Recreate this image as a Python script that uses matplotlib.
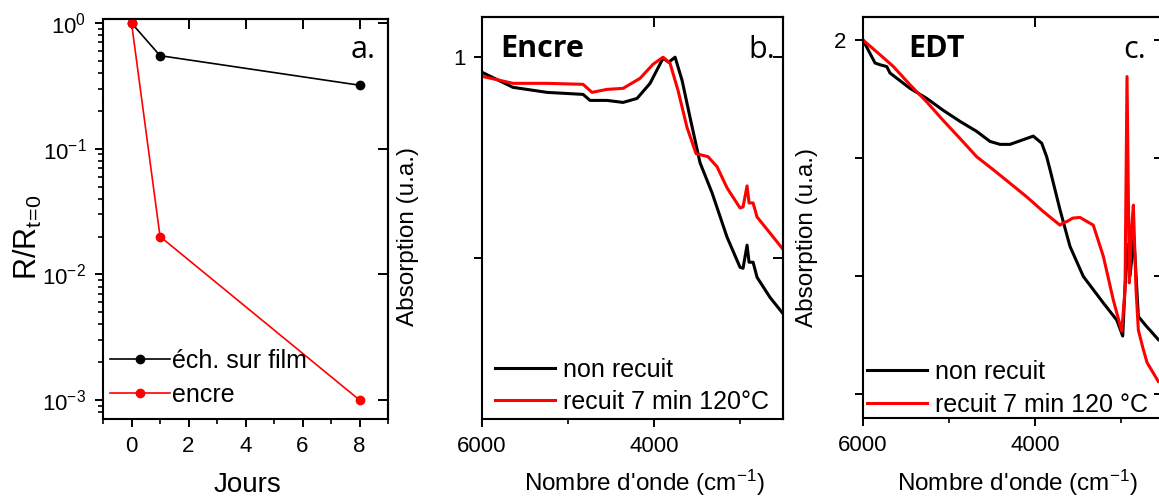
import matplotlib
matplotlib.use("Agg")
import matplotlib.pyplot as plt
from matplotlib.ticker import NullFormatter, NullLocator, FixedLocator

plt.rcParams['font.family'] = ['Liberation Sans', 'DejaVu Sans']
plt.rcParams['mathtext.default'] = 'regular'

########################
# a. resistance relative en fonction du temps
jours = [0, 1, 8]
r_film = [1.0, 0.55, 0.32]
r_encre = [1.0, 0.02, 0.001]

# b. Encre
wn_b_noir = [6000, 5640, 5244, 4825, 4744, 4546, 4360, 4197, 4046, 3895, 3830, 3755,
             3674, 3581, 3465, 3325, 3151, 3000, 2965, 2918, 2895, 2848, 2802, 2651, 2511]
abs_b_noir = [0.985, 0.970, 0.965, 0.963, 0.957, 0.957, 0.955, 0.959, 0.974, 0.999, 0.995, 1.0,
              0.977, 0.940, 0.895, 0.865, 0.821, 0.791, 0.790, 0.813, 0.796, 0.796, 0.781, 0.761, 0.746]
wn_b_recuit = [6000, 5640, 5244, 4825, 4721, 4546, 4360, 4162, 4011, 3895, 3814, 3721,
               3616, 3511, 3372, 3267, 3151, 3000, 2965, 2918, 2895, 2848, 2802, 2651, 2511]
abs_b_recuit = [0.981, 0.974, 0.974, 0.973, 0.965, 0.968, 0.969, 0.979, 0.993, 1.0, 0.994, 0.967,
                0.930, 0.904, 0.901, 0.891, 0.870, 0.850, 0.851, 0.872, 0.855, 0.855, 0.841, 0.825, 0.810]

# c. EDT
wn_c_noir = [6000, 5860, 5802, 5724, 5686, 5453, 5259, 5070, 4872, 4678, 4523, 4407, 4290, 4136,
             4020, 3922, 3864, 3825, 3709, 3593, 3438, 3205, 3049, 2980, 2953, 2920, 2895, 2850,
             2798, 2701, 2566]
abs_c_noir = [2.0, 1.961, 1.958, 1.955, 1.944, 1.918, 1.901, 1.881, 1.862, 1.845, 1.828, 1.823, 1.823,
              1.831, 1.837, 1.825, 1.802, 1.780, 1.712, 1.650, 1.599, 1.554, 1.525, 1.498, 1.582,
              1.653, 1.600, 1.666, 1.531, 1.514, 1.492]
wn_c_recuit = [6000, 5802, 5647, 5453, 5259, 5070, 4872, 4678, 4485, 4290, 4096, 3903, 3760, 3709,
               3670, 3631, 3560, 3476, 3322, 3205, 3089, 2991, 2953, 2930, 2903, 2875, 2856, 2825,
               2798, 2740, 2697, 2566]
abs_c_recuit = [2.0, 1.975, 1.955, 1.924, 1.895, 1.864, 1.833, 1.802, 1.780, 1.757, 1.734, 1.709,
                1.692, 1.686, 1.690, 1.692, 1.698, 1.699, 1.686, 1.633, 1.559, 1.506, 1.576, 1.938,
                1.588, 1.684, 1.720, 1.576, 1.508, 1.475, 1.453, 1.421]
########################

TICK_FS = 16
LAB_FS = 17.5
LEG_FS = 18
BIG_FONT = 'Open Sans'


def inner_ticks(ax, xt, yt):
    # graduations internes en haut et a droite (style Origin)
    top = ax.secondary_xaxis('top')
    top.xaxis.set_major_locator(FixedLocator(xt))
    top.xaxis.set_minor_locator(NullLocator())
    top.xaxis.set_major_formatter(NullFormatter())
    top.tick_params(direction='in', length=7, width=1.4)
    top.spines['top'].set_linewidth(1.5)
    right = ax.secondary_yaxis('right')
    right.yaxis.set_major_locator(FixedLocator(yt))
    right.yaxis.set_minor_locator(NullLocator())
    right.yaxis.set_major_formatter(NullFormatter())
    right.tick_params(direction='in', length=7, width=1.4)
    right.spines['right'].set_linewidth(1.5)


def style(ax):
    for s in ax.spines.values():
        s.set_linewidth(1.5)
    ax.tick_params(which='major', direction='out', length=6, width=1.4,
                   labelsize=TICK_FS, top=False, right=False, pad=6)
    ax.tick_params(which='minor', direction='out', length=3.5, width=1.2,
                   top=False, right=False)


fig = plt.figure(figsize=(11.59, 4.97), dpi=100)
ax_a = fig.add_axes([0.0889, 0.1569, 0.2459, 0.8048])
ax_b = fig.add_axes([0.4159, 0.1569, 0.2597, 0.8089])
ax_c = fig.add_axes([0.7446, 0.1590, 0.2597, 0.8068])

# ---- a.
ax_a.plot(jours, r_film, color='black', lw=1.2, marker='o', ms=6, label='éch. sur film')
ax_a.plot(jours, r_encre, color='red', lw=1.2, marker='o', ms=6, label='encre')
ax_a.set_yscale('log')
ax_a.set_ylim(7.06e-4, 1.076)
ax_a.set_xlim(-1, 9)
ax_a.set_xticks([0, 2, 4, 6, 8])
ax_a.set_xticks([-1, 1, 3, 5, 7, 9], minor=True)
style(ax_a)
inner_ticks(ax_a, [0, 2, 4, 6, 8], [1e-3, 1e-2, 1e-1, 1])
ax_a.set_ylabel(r'R/R$_{t\!=\!0}$', fontsize=22, va='center')
ax_a.yaxis.set_label_coords(-0.262, 0.455)
ax_a.set_xlabel('Jours', fontsize=20, va='center')
ax_a.xaxis.set_label_coords(0.505, -0.165)
ax_a.text(0.867, 0.9025, 'a.', transform=ax_a.transAxes, fontsize=22,
          family=BIG_FONT, va='baseline')
ax_a.legend(loc='lower left', bbox_to_anchor=(0.025, 0.03), frameon=False,
            fontsize=LEG_FS, handlelength=2.4, handletextpad=0.08,
            labelspacing=0.40, borderpad=0, borderaxespad=0)

# ---- b. et c.
panels = [
    (ax_b, wn_b_noir, abs_b_noir, wn_b_recuit, abs_b_recuit, (0.64, 1.04), [0.8, 1.0], ['', '1'],
     'Encre', (0.060, 0.900), 'b.', (0.884, 0.898), 'recuit 7 min 120°C',
     (0.043, 0.012), 0.32, (-0.246, 0.453), (0.541, -0.159)),
    (ax_c, wn_c_noir, abs_c_noir, wn_c_recuit, abs_c_recuit, (1.359, 2.039), [1.4, 1.6, 1.8, 2.0],
     ['', '', '', '2'], 'EDT', (0.150, 0.900), 'c.', (0.864, 0.898), 'recuit 7 min 120 °C',
     (0.013, 0.003), 0.36, (-0.186, 0.451), (0.512, -0.162)),
]
for (ax, xn, yn, xr, yr, ylim, yt, ytl, titre, tpos, lettre, lpos, lab_r,
     legpos, lsp, ylab_pos, xlab_pos) in panels:
    ax.plot(xn, yn, color='black', lw=2.2, label='non recuit')
    ax.plot(xr, yr, color='red', lw=2.2, label=lab_r)
    ax.set_xlim(6000, 2500)
    ax.set_ylim(*ylim)
    ax.set_xticks([6000, 4000])
    ax.set_xticks([5000, 3000], minor=True)
    ax.set_yticks(yt)
    ax.set_yticklabels(ytl)
    style(ax)
    inner_ticks(ax, [6000, 4000], yt)
    ax.set_ylabel('Absorption (u.a.)', fontsize=LAB_FS, va='center')
    ax.yaxis.set_label_coords(*ylab_pos)
    ax.set_xlabel("Nombre d'onde (cm$^{-1}$)", fontsize=LAB_FS, va='center')
    ax.xaxis.set_label_coords(*xlab_pos)
    ax.text(tpos[0], tpos[1], titre, transform=ax.transAxes, fontsize=22,
            family=BIG_FONT, weight='bold', va='baseline')
    ax.text(lpos[0], lpos[1], lettre, transform=ax.transAxes, fontsize=22,
            family=BIG_FONT, va='baseline')
    ax.legend(loc='lower left', bbox_to_anchor=legpos, frameon=False,
              fontsize=LEG_FS, handlelength=2.4, handletextpad=0.32,
              labelspacing=lsp, borderpad=0, borderaxespad=0)

plt.savefig('out.png', dpi=100)
